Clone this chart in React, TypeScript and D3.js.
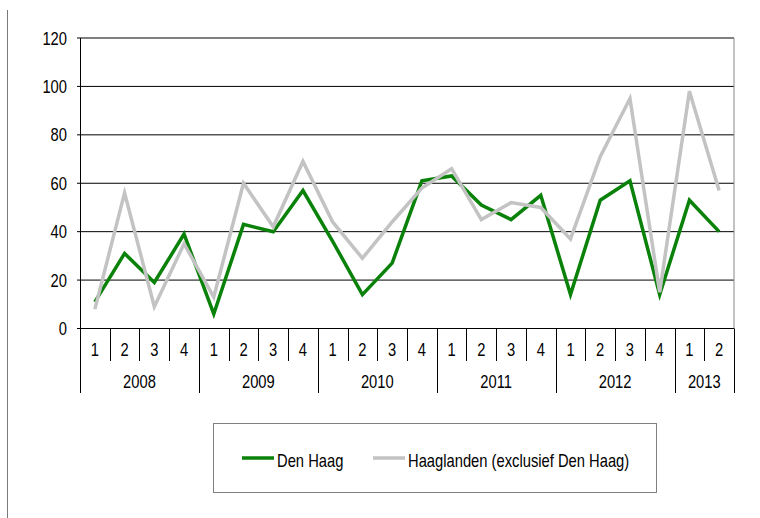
import { line, range, scaleBand, scaleLinear } from "d3";

const years = ["2008", "2009", "2010", "2011", "2012", "2013"];
const quarterLabels = [
  "1", "2", "3", "4",
  "1", "2", "3", "4",
  "1", "2", "3", "4",
  "1", "2", "3", "4",
  "1", "2", "3", "4",
  "1", "2",
];
const denHaag = [11, 31, 19, 39, 6, 43, 40, 57, 36, 14, 27, 61, 63, 51, 45, 55, 14, 53, 61, 14, 53, 40];
const haaglanden = [8, 56, 9, 35, 13, 60, 42, 69, 44, 29, 44, 58, 66, 45, 52, 50, 37, 71, 95, 15, 98, 57];
const yTicks = [0, 20, 40, 60, 80, 100, 120];
const seriesNames = ["Den Haag", "Haaglanden (exclusief Den Haag)"];

const W = 760;
const H = 518;
const plot = { left: 80, right: 734, top: 38, bottom: 328.5 };
const font = "'Liberation Sans', Arial, sans-serif";
const fs = 18;
const squeeze = 0.82; // the original uses a narrow face
const green = "#0a820a";
const grey = "#c3c3c3";

// narrow text: regular face squeezed horizontally
function NText({ x, y, anchor = "start", children }: { x: number; y: number; anchor?: string; children: any }) {
  return (
    <text
      transform={`translate(${x},${y}) scale(${squeeze},1)`}
      textAnchor={anchor}
      fill="#000"
    >
      {children}
    </text>
  );
}

export default function App() {
  const idx = range(quarterLabels.length);

  const x = scaleBand<number>()
    .domain(idx)
    .range([plot.left, plot.right]);

  const y = scaleLinear().domain([0, 120]).range([plot.bottom, plot.top]);

  const cx = (i: number) => (x(i) ?? 0) + x.bandwidth() / 2;

  const path = line<number>()
    .x((_, i) => cx(i))
    .y((d) => y(d));

  // start index of each year in the quarter list
  let starts: number[] = [];
  quarterLabels.forEach((q, i) => {
    if (q === "1") starts.push(i);
  });

  const qBottom = 361;
  const yBottom = 393;

  return (
    <svg
      width={W}
      height={H}
      style={{ position: "absolute", left: 0, top: 0, background: "#fff" }}
      fontFamily={font}
      fontSize={fs}
    >
      {/* outer frame edge on the left */}
      <line x1={7.5} x2={7.5} y1={10} y2={H} stroke="#7a7a7a" strokeWidth={1} />

      {/* gridlines */}
      {yTicks.slice(1).map((t) => (
        <line
          key={`g-${t}`}
          x1={plot.left}
          x2={plot.right}
          y1={y(t)}
          y2={y(t)}
          stroke="#000"
          strokeWidth={1}
        />
      ))}
      <line x1={plot.right} x2={plot.right} y1={plot.top} y2={plot.bottom} stroke="#888" />

      {/* y axis */}
      <line x1={plot.left + 0.5} x2={plot.left + 0.5} y1={plot.top} y2={plot.bottom} stroke="#000" />
      {yTicks.map((t) => (
        <g key={`yt-${t}`}>
          <line x1={plot.left - 3} x2={plot.left} y1={y(t)} y2={y(t)} stroke="#000" />
          <NText x={67} y={y(t) + 6.5} anchor="end">
            {t}
          </NText>
        </g>
      ))}

      {/* x axis */}
      <line x1={plot.left} x2={plot.right} y1={plot.bottom} y2={plot.bottom} stroke="#000" />
      {idx.map((i) => (
        <NText key={`q-${i}`} x={cx(i)} y={355.5} anchor="middle">
          {quarterLabels[i]}
        </NText>
      ))}
      {idx.map((i) => {
        const xs = Math.round(x(i) ?? 0) + 0.5;
        const isYear = starts.includes(i);
        return (
          <line
            key={`qs-${i}`}
            x1={xs}
            x2={xs}
            y1={plot.bottom}
            y2={isYear ? yBottom : qBottom}
            stroke="#000"
          />
        );
      })}
      <line
        x1={plot.right + 0.5}
        x2={plot.right + 0.5}
        y1={plot.bottom}
        y2={yBottom}
        stroke="#000"
      />
      {years.map((yr, k) => {
        const a = x(starts[k]) ?? 0;
        const endIdx = k + 1 < starts.length ? starts[k + 1] : quarterLabels.length;
        const b = endIdx < quarterLabels.length ? x(endIdx) ?? plot.right : plot.right;
        return (
          <NText key={`yr-${yr}`} x={(a + b) / 2} y={388} anchor="middle">
            {yr}
          </NText>
        );
      })}

      {/* series */}
      <path d={path(denHaag) ?? ""} fill="none" stroke={green} strokeWidth={3.5} strokeLinejoin="miter" />
      <path d={path(haaglanden) ?? ""} fill="none" stroke={grey} strokeWidth={3.5} strokeLinejoin="miter" />

      {/* legend */}
      <rect x={213.5} y={423.5} width={443} height={69} fill="#fff" stroke="#808080" />
      <line x1={242} x2={274} y1={458} y2={458} stroke={green} strokeWidth={3.5} />
      <NText x={277} y={466.5}>{seriesNames[0]}</NText>
      <line x1={373} x2={405} y1={458} y2={458} stroke={grey} strokeWidth={3.5} />
      <NText x={408} y={466.5}>{seriesNames[1]}</NText>
    </svg>
  );
}
